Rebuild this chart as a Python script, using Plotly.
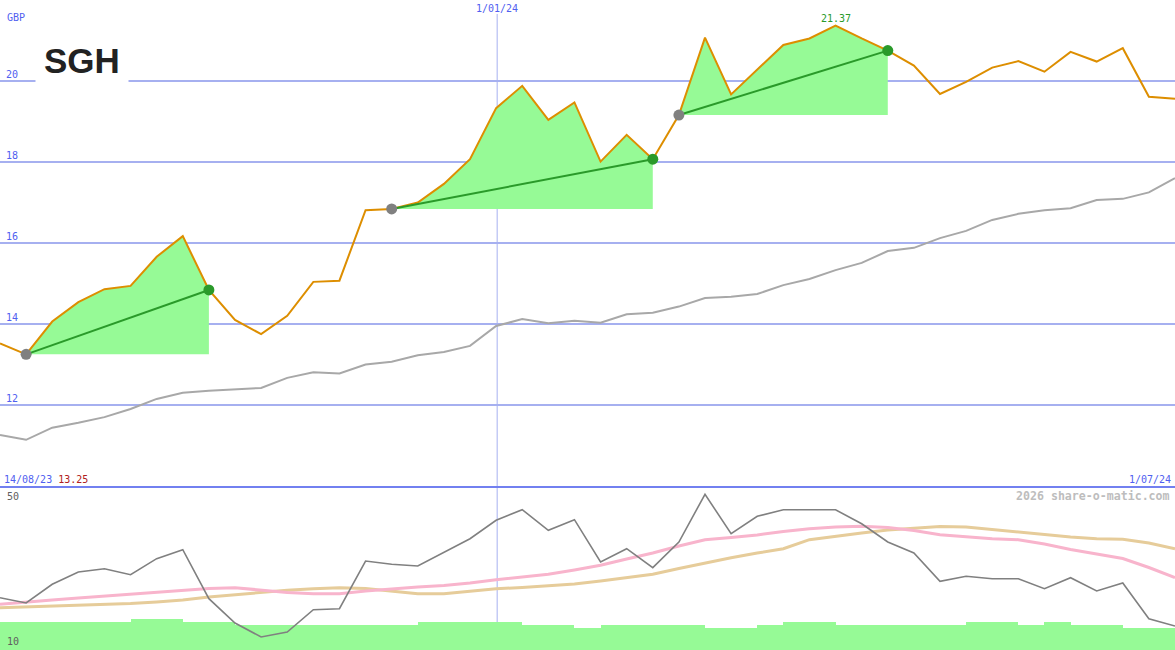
import plotly.graph_objects as go

# ---------------- data ----------------
weeks = list(range(46))  # weekly samples, 14/08/23 .. 1/07/24
price = [13.52, 13.25, 14.06, 14.54, 14.86, 14.94, 15.66, 16.17, 14.84, 14.10,
         13.75, 14.20, 15.04, 15.07, 16.81, 16.84, 17.00, 17.46, 18.07, 19.33,
         19.88, 19.04, 19.47, 18.01, 18.67, 18.07, 19.16, 21.07, 19.67, 20.29,
         20.89, 21.05, 21.37, 21.05, 20.75, 20.38, 19.68, 19.98, 20.33, 20.49,
         20.23, 20.72, 20.48, 20.81, 19.61, 19.56]
ma_long = [11.26, 11.14, 11.44, 11.56, 11.70, 11.90, 12.15, 12.30, 12.35, 12.38,
           12.42, 12.67, 12.81, 12.78, 13.00, 13.07, 13.23, 13.31, 13.46, 13.95,
           14.12, 14.02, 14.08, 14.03, 14.24, 14.28, 14.43, 14.64, 14.67, 14.74,
           14.96, 15.11, 15.33, 15.51, 15.80, 15.88, 16.12, 16.30, 16.57, 16.72,
           16.81, 16.86, 17.06, 17.09, 17.25, 17.60]
osc = [22.83, 21.53, 26.12, 29.14, 29.95, 28.48, 32.41, 34.61, 22.59, 16.63,
       13.19, 14.42, 19.89, 20.13, 31.84, 31.03, 30.61, 34.05, 37.31, 41.83,
       44.43, 39.37, 41.98, 31.60, 34.86, 30.20, 36.50, 48.21, 38.54, 42.81,
       44.43, 44.43, 44.43, 40.99, 36.50, 33.80, 26.86, 28.09, 27.50, 27.50,
       25.04, 27.74, 24.48, 26.44, 17.68, 15.89]
osc_fast = [21.21, 21.66, 22.27, 22.76, 23.25, 23.74, 24.23, 24.60, 25.09, 25.29,
            24.72, 24.11, 23.82, 23.82, 24.48, 25.04, 25.46, 25.83, 26.44, 27.25,
            27.91, 28.58, 29.63, 30.79, 32.33, 33.80, 35.52, 37.07, 37.61, 38.22,
            39.08, 39.77, 40.18, 40.36, 40.06, 39.33, 38.29, 37.73, 37.31, 37.07,
            36.01, 34.66, 33.56, 32.45, 30.25, 27.74]
osc_slow = [20.38, 20.55, 20.80, 20.97, 21.14, 21.41, 21.78, 22.27, 23.01, 23.62,
            24.23, 24.68, 25.02, 25.29, 25.09, 24.48, 23.82, 23.82, 24.36, 25.04,
            25.34, 25.78, 26.20, 26.93, 27.67, 28.58, 30.00, 31.35, 32.65, 33.80,
            34.86, 37.07, 37.98, 38.71, 39.45, 39.94, 40.31, 40.18, 39.57, 38.96,
            38.29, 37.73, 37.31, 37.17, 36.26, 34.86]
volume = [9, 9, 9, 9, 9, 10, 10, 9, 9, 8, 8, 8, 8, 8, 8, 8, 9, 9, 9, 9,
          8, 8, 7, 8, 8, 8, 8, 7, 7, 8, 9, 9, 8, 8, 8, 8, 8, 9, 9, 8,
          9, 8, 8, 7, 7]
# up-trend runs (start week, end week)
runs = [(1, 8), (15, 25), (26, 34)]
price_ticks = [12, 14, 16, 18, 20]
jan_pos = 19.04          # position of 1/01/24 on the week scale
start_label = "14/08/23"
start_price = "13.25"
end_label = "1/07/24"
mid_label = "1/01/24"
peak_label = "21.37"
peak_week = 32

W, H = 1175, 650
split = 1 - 487 / H

ORANGE = "#dd8e00"
FILLG = "#96fa96"
DKGREEN = "#2a9a2a"
BLUE = "#5060f0"
GRID = "#a6b0f0"

fig = go.Figure()

# volume bars (lower panel base axis, drawn behind the overlaying oscillator axis)
fig.add_trace(go.Bar(x=[w + 0.5 for w in weeks[:-1]], y=volume, width=1.0,
                     marker=dict(color=FILLG, line=dict(width=0)),
                     xaxis="x", yaxis="y2", hoverinfo="skip"))

# green fills of up-trend runs
for s, e in runs:
    xs = weeks[s:e + 1] + [weeks[e], weeks[s]]
    ys = price[s:e + 1] + [price[s], price[s]]
    fig.add_trace(go.Scatter(x=xs, y=ys, fill="toself", fillcolor=FILLG,
                             mode="lines", line=dict(width=0), hoverinfo="skip",
                             xaxis="x", yaxis="y"))

fig.add_trace(go.Scatter(x=weeks, y=ma_long, mode="lines",
                         line=dict(color="#a8a8a8", width=2), xaxis="x", yaxis="y"))
fig.add_trace(go.Scatter(x=weeks, y=price, mode="lines",
                         line=dict(color=ORANGE, width=2), xaxis="x", yaxis="y"))

for s, e in runs:
    fig.add_trace(go.Scatter(x=[weeks[s], weeks[e]], y=[price[s], price[e]], mode="lines",
                             line=dict(color=DKGREEN, width=2), xaxis="x", yaxis="y"))
    fig.add_trace(go.Scatter(x=[weeks[s]], y=[price[s]], mode="markers",
                             marker=dict(color="#808080", size=11), xaxis="x", yaxis="y"))
    fig.add_trace(go.Scatter(x=[weeks[e]], y=[price[e]], mode="markers",
                             marker=dict(color=DKGREEN, size=11), xaxis="x", yaxis="y"))

# lower panel lines (overlaying axis -> drawn above the bars)
fig.add_trace(go.Scatter(x=weeks, y=osc_slow, mode="lines", line=dict(color="#e6cc9a", width=3),
                         xaxis="x", yaxis="y3"))
fig.add_trace(go.Scatter(x=weeks, y=osc_fast, mode="lines", line=dict(color="#f8b4cc", width=3),
                         xaxis="x", yaxis="y3"))
fig.add_trace(go.Scatter(x=weeks, y=osc, mode="lines", line=dict(color="#808080", width=1.6),
                         xaxis="x", yaxis="y3"))

mono = "DejaVu Sans Mono"
ann = []
ann.append(dict(x=5 / W, y=1 - 18 / H, xref="paper", yref="paper", text="GBP",
                showarrow=False, xanchor="left", yanchor="middle",
                font=dict(family=mono, size=10, color=BLUE)))
for t in price_ticks:
    ann.append(dict(x=4 / W, y=t, xref="paper", yref="y", text=str(t), showarrow=False,
                    xanchor="left", yanchor="bottom", yshift=-1,
                    font=dict(family=mono, size=10, color=BLUE)))
ann.append(dict(x=jan_pos, y=1 - 9 / H, xref="x", yref="paper", text=mid_label,
                showarrow=False, xanchor="center", yanchor="middle",
                font=dict(family=mono, size=10, color=BLUE)))
ann.append(dict(x=2 / W, y=1 - 479 / H, xref="paper", yref="paper",
                text=start_label + " <span style='color:#b02020'>" + start_price + "</span>",
                showarrow=False, xanchor="left", yanchor="middle",
                font=dict(family=mono, size=10, color=BLUE)))
ann.append(dict(x=1 - 2 / W, y=1 - 479 / H, xref="paper", yref="paper", text=end_label,
                showarrow=False, xanchor="right", yanchor="middle",
                font=dict(family=mono, size=10, color=BLUE)))
ann.append(dict(x=peak_week, y=price[peak_week], xref="x", yref="y", text=peak_label,
                showarrow=False, xanchor="center", yanchor="bottom", yshift=0,
                font=dict(family=mono, size=10, color=DKGREEN)))
ann.append(dict(x=1 - 3 / W, y=1 - 496 / H, xref="paper", yref="paper",
                text="<b>2026 share-o-matic.com</b>", showarrow=False,
                xanchor="right", yanchor="middle",
                font=dict(family=mono, size=11.6, color="#bdbdbd")))
ann.append(dict(x=5 / W, y=1 - 496 / H, xref="paper", yref="paper", text="50",
                showarrow=False, xanchor="left", yanchor="middle",
                font=dict(family=mono, size=10, color="#606060")))
ann.append(dict(x=5 / W, y=1 - 641 / H, xref="paper", yref="paper", text="10",
                showarrow=False, xanchor="left", yanchor="middle",
                font=dict(family=mono, size=10, color="#606060")))
ann.append(dict(x=82 / W, y=1 - 61 / H, xref="paper", yref="paper", text="<b>SGH</b>",
                showarrow=False, xanchor="center", yanchor="middle",
                bgcolor="white", borderpad=8,
                font=dict(family="Liberation Sans", size=35, color="#222222")))

shapes = [
    dict(type="line", xref="x", yref="paper", x0=jan_pos, x1=jan_pos, y0=0, y1=1 - 14 / H,
         line=dict(color=GRID, width=1), layer="below"),
    dict(type="line", xref="paper", yref="paper", x0=0, x1=1, y0=split, y1=split,
         line=dict(color="#7280f0", width=2)),
]

fig.update_layout(
    width=W, height=H, margin=dict(l=0, r=0, t=0, b=0),
    paper_bgcolor="white", plot_bgcolor="white", showlegend=False,
    bargap=0,
    xaxis=dict(range=[0, 45], showgrid=False, zeroline=False, showticklabels=False,
               ticks="", anchor="y2", fixedrange=True),
    yaxis=dict(domain=[split, 1], range=[9.975, 22.0], tickvals=price_ticks,
               showgrid=True, gridcolor=GRID, gridwidth=2, zeroline=False,
               showticklabels=False, ticks="", anchor="x"),
    yaxis2=dict(domain=[0, split], range=[0, 52.2], showgrid=False, zeroline=False,
                showticklabels=False, ticks="", anchor="x"),
    yaxis3=dict(domain=[0, split], range=[10, 50], overlaying="y2", showgrid=False,
                zeroline=False, showticklabels=False, ticks="", anchor="x"),
    annotations=ann, shapes=shapes,
)

fig.write_html("out.html", config={"displayModeBar": False},
               post_script="document.body.style.margin='0px';document.body.style.overflow='hidden';")
